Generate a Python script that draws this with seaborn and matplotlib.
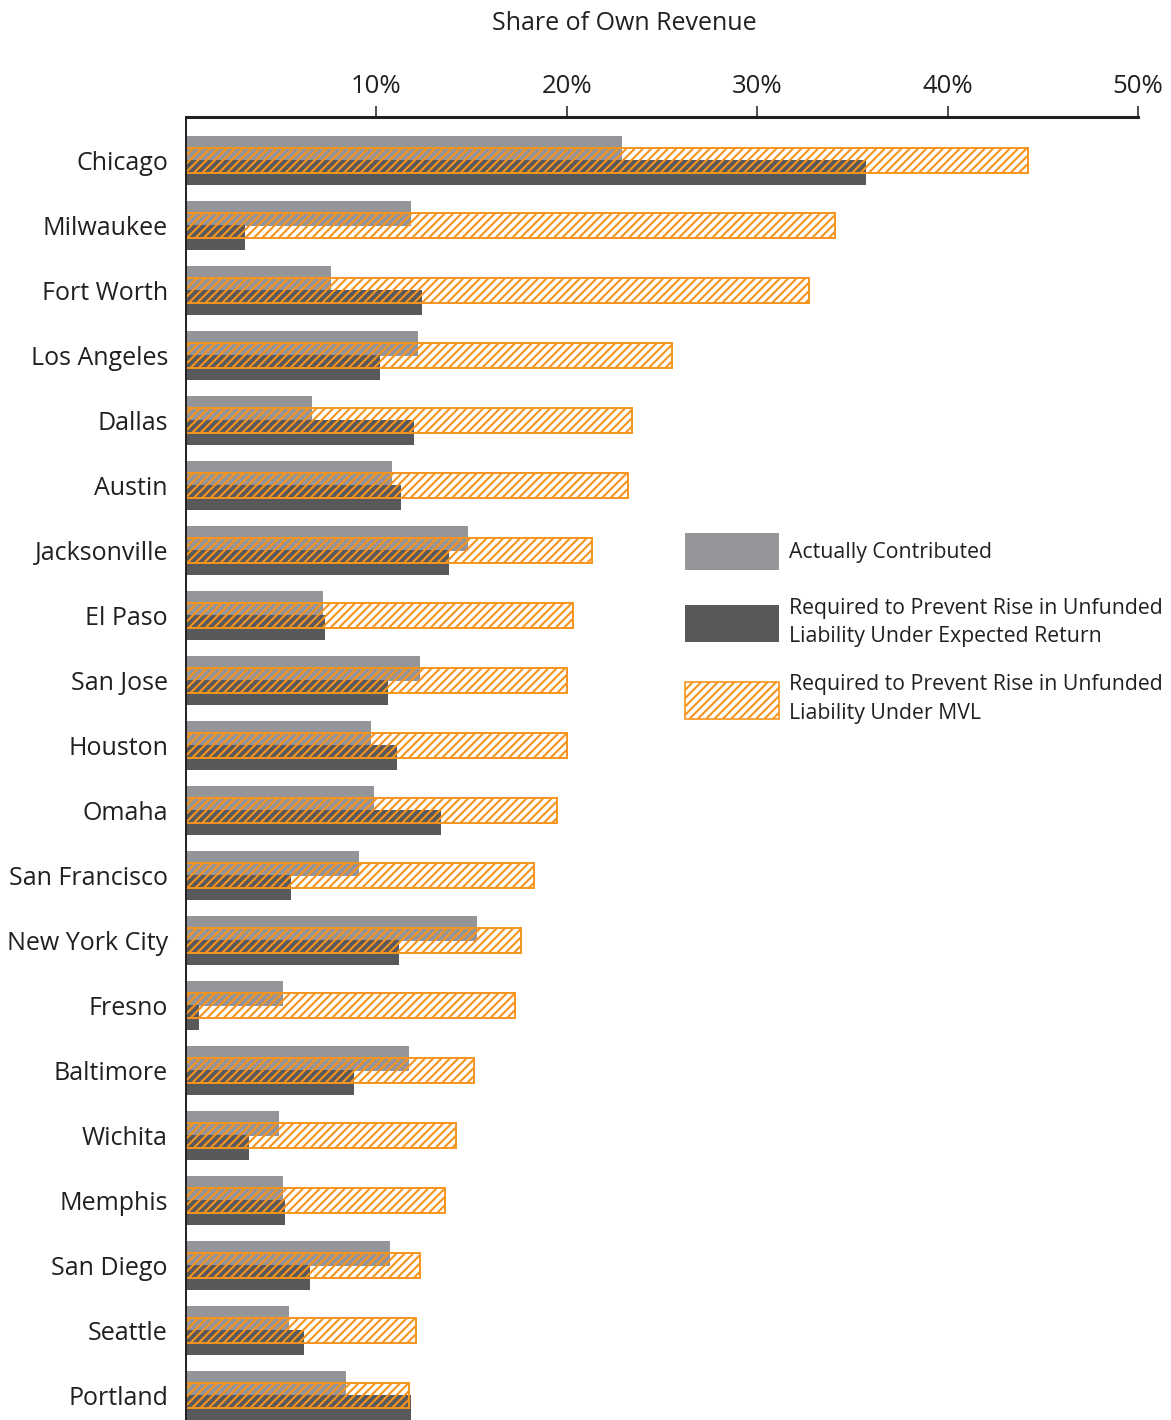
import numpy as np
import pandas as pd
import matplotlib
matplotlib.use("Agg")
import matplotlib.pyplot as plt
from matplotlib.patches import Patch
import seaborn as sns

# ── Data (share of own revenue, %) ────────────────────────────────────────────
cities = ["Chicago", "Milwaukee", "Fort Worth", "Los Angeles", "Dallas", "Austin",
          "Jacksonville", "El Paso", "San Jose", "Houston", "Omaha", "San Francisco",
          "New York City", "Fresno", "Baltimore", "Wichita", "Memphis", "San Diego",
          "Seattle", "Portland"]
actual   = [22.9, 11.8, 7.6, 12.2, 6.6, 10.8, 14.8, 7.2, 12.3, 9.7,
            9.9, 9.1, 15.3, 5.1, 11.7, 4.9, 5.1, 10.7, 5.4, 8.4]
expected = [35.7, 3.1, 12.4, 10.2, 12.0, 11.3, 13.8, 7.3, 10.6, 11.1,
            13.4, 5.5, 11.2, 0.7, 8.8, 3.3, 5.2, 6.5, 6.2, 11.8]
mvl      = [44.2, 34.1, 32.7, 25.5, 23.4, 23.2, 21.3, 20.3, 20.0, 20.0,
            19.5, 18.3, 17.6, 17.3, 15.1, 14.2, 13.6, 12.3, 12.1, 11.7]
ticks = [10, 20, 30, 40, 50]

GRAY, DARK, ORANGE = "#939598", "#58595b", "#f7941d"
INK = "#231f20"

sns.set_style("white")
plt.rcParams["font.family"] = ["Open Sans", "DejaVu Sans"]
plt.rcParams["hatch.color"] = ORANGE
plt.rcParams["hatch.linewidth"] = 1.5

pos = np.arange(len(cities))
off, h = 0.185, 0.385

fig = plt.figure(figsize=(11.71, 14.2), dpi=100)
ax = fig.add_axes([186/1171, 0, (1138-186)/1171, 1 - 117/1420])

sns.barplot(x=actual, y=pos - off, orient="y", native_scale=True, width=h,
            color=GRAY, saturation=1, linewidth=0, ax=ax)
sns.barplot(x=expected, y=pos + off, orient="y", native_scale=True, width=h,
            color=DARK, saturation=1, linewidth=0, ax=ax)
sns.barplot(x=mvl, y=pos, orient="y", native_scale=True, width=h,
            color=ORANGE, saturation=1, fill=False, hatch="////", linewidth=1.4, ax=ax)

ax.set_xlim(0, 50)
ax.set_ylim(len(cities) - 1 + 0.377, -0.67)
ax.set_yticks(pos, cities)
ax.set_xticks(ticks, [f"{t}%" for t in ticks])
ax.set_xlabel("")
ax.set_ylabel("")
ax.xaxis.tick_top()
ax.tick_params(axis="x", direction="out", length=8, width=1.1, color=INK,
               labelsize=18.5, pad=5, labelcolor=INK)
ax.tick_params(axis="y", length=0, labelsize=18, pad=13, labelcolor=INK)
for s in ["right", "bottom"]:
    ax.spines[s].set_visible(False)
ax.spines["top"].set_linewidth(2.2)
ax.spines["top"].set_color(INK)
ax.spines["left"].set_linewidth(1.4)
ax.spines["left"].set_color(INK)
ax.grid(False)

fig.text(624/1171, 1 - 23/1420, "Share of Own Revenue", ha="center", va="center",
         fontsize=18, color=INK)

handles = [Patch(facecolor=GRAY, edgecolor="none"),
           Patch(facecolor=DARK, edgecolor="none"),
           Patch(facecolor="white", edgecolor=ORANGE, hatch="////", linewidth=1.2)]
labels = ["Actually Contributed",
          "Required to Prevent Rise in Unfunded\nLiability Under Expected Return",
          "Required to Prevent Rise in Unfunded\nLiability Under MVL"]
leg = fig.legend(handles, labels, loc="upper left",
                 bbox_to_anchor=(685/1171, 1 - 533/1420),
                 frameon=False, fontsize=15.3, handlelength=4.4, handleheight=2.3,
                 handletextpad=0.5, labelspacing=1.3, borderpad=0, borderaxespad=0,
                 labelcolor=INK)
for t in leg.get_texts():
    t.set_linespacing(1.45)

fig.savefig("out.png", dpi=100)
